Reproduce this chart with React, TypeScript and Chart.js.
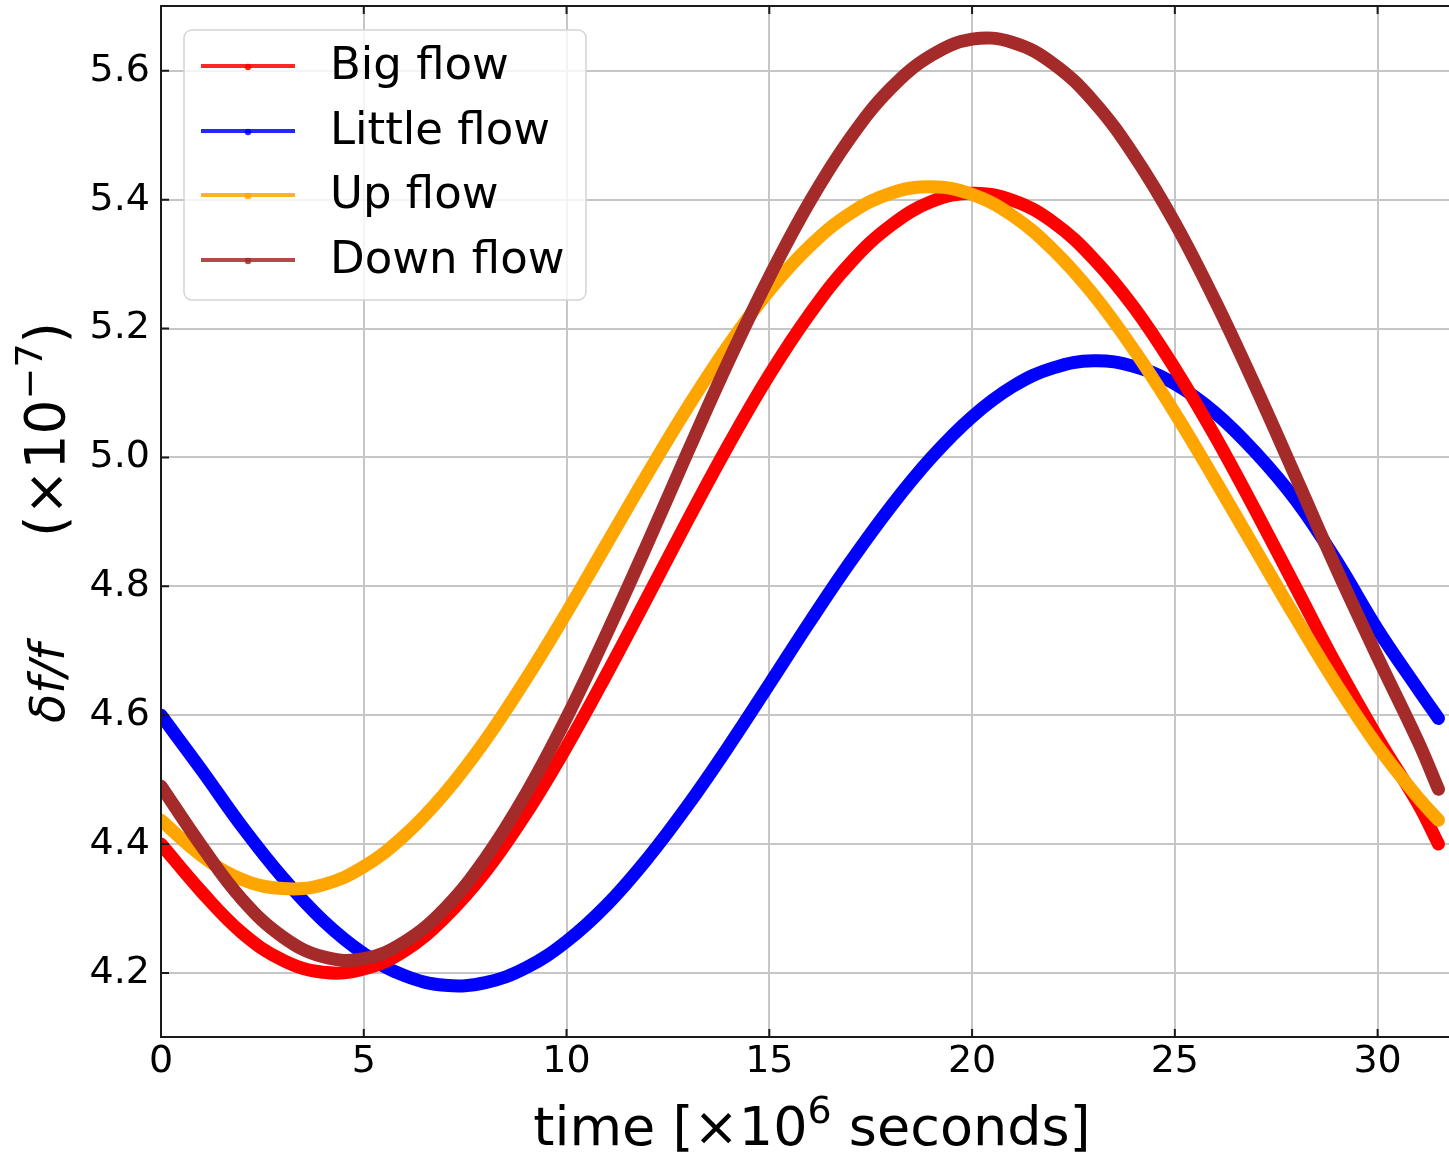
import React, { useEffect, useRef } from "react";
import { Chart, registerables } from "chart.js";

Chart.register(...registerables);

// ---- data (time in 10^6 s, δf/f in 10^-7) ----
const TIME = [0, 1, 2, 3, 4, 5, 6, 7, 8, 9, 10, 11, 12, 13, 14, 15, 16, 17, 18, 19, 20, 21, 22, 23, 24, 25, 26, 27, 28, 29, 30, 31, 31.5];

const BIG_FLOW = [4.40, 4.326, 4.262, 4.220, 4.201, 4.206, 4.234, 4.286, 4.357, 4.447, 4.551, 4.665, 4.784, 4.904, 5.020, 5.128, 5.223, 5.302, 5.360, 5.397, 5.410, 5.399, 5.365, 5.308, 5.232, 5.138, 5.032, 4.916, 4.796, 4.676, 4.565, 4.462, 4.40];

const LITTLE_FLOW = [4.60, 4.515, 4.427, 4.348, 4.281, 4.230, 4.196, 4.181, 4.185, 4.208, 4.249, 4.306, 4.378, 4.461, 4.552, 4.648, 4.745, 4.838, 4.924, 5.000, 5.063, 5.110, 5.139, 5.150, 5.141, 5.114, 5.069, 5.007, 4.932, 4.838, 4.733, 4.640, 4.595];

const UP_FLOW = [4.437, 4.382, 4.345, 4.331, 4.337, 4.365, 4.413, 4.479, 4.561, 4.656, 4.759, 4.867, 4.975, 5.079, 5.175, 5.259, 5.328, 5.379, 5.410, 5.420, 5.408, 5.375, 5.322, 5.252, 5.166, 5.069, 4.964, 4.856, 4.749, 4.646, 4.552, 4.472, 4.437];

const DOWN_FLOW = [4.49, 4.397, 4.314, 4.256, 4.225, 4.222, 4.248, 4.300, 4.378, 4.478, 4.596, 4.728, 4.867, 5.010, 5.150, 5.280, 5.397, 5.496, 5.573, 5.624, 5.649, 5.644, 5.611, 5.552, 5.468, 5.364, 5.242, 5.108, 4.967, 4.825, 4.690, 4.559, 4.485];

const SERIES_LABELS = ["Big flow", "Little flow", "Up flow", "Down flow"];
const SERIES_COLORS = ["#ff0000", "#0000ff", "#ffa500", "#a52a2a"];
const SERIES_ORDER = [3, 4, 2, 1]; // lower = drawn on top

const X_TICKS = [0, 5, 10, 15, 20, 25, 30];
const Y_TICKS = [4.2, 4.4, 4.6, 4.8, 5.0, 5.2, 5.4, 5.6];
const X_MIN = 0;
const X_MAX = 31.76;
const Y_MIN = 4.1006;
const Y_MAX = 5.7005;

const FONT = '"DejaVu Sans", "Liberation Sans", sans-serif';

type Seg = { t: string; italic?: boolean; sup?: boolean; size: number };

function segFont(s: Seg) {
  return `${s.italic ? "italic " : ""}${Math.round(s.size)}px ${FONT}`;
}

function segsWidth(ctx: CanvasRenderingContext2D, segs: Seg[]) {
  let w = 0;
  for (const s of segs) {
    ctx.font = segFont(s);
    w += ctx.measureText(s.t).width;
  }
  return w;
}

function drawSegs(ctx: CanvasRenderingContext2D, segs: Seg[], x0: number, y0: number, raise: number) {
  let x = x0;
  for (const s of segs) {
    ctx.font = segFont(s);
    ctx.fillText(s.t, x, s.sup ? y0 - raise : y0);
    x += ctx.measureText(s.t).width;
  }
}

const X_TITLE: Seg[] = [
  { t: "time [", size: 54 },
  { t: "×", size: 54 },
  { t: "10", size: 54 },
  { t: "6", sup: true, size: 38 },
  { t: " seconds]", size: 54 },
];
const Y_TITLE: Seg[] = [
  { t: "δf/f", italic: true, size: 48 },
  { t: "       ", size: 48 },
  { t: "(×10", size: 55 },
  { t: "−7", sup: true, size: 38 },
  { t: ")", size: 55 },
];

const framePlugin = {
  id: "frame",
  afterDatasetsDraw(chart: any) {
    const { ctx, chartArea: a, scales } = chart;
    ctx.save();
    ctx.strokeStyle = "#1a1a1a";
    ctx.lineWidth = 2;
    ctx.beginPath();
    ctx.moveTo(a.right + 10, a.top);
    ctx.lineTo(a.left, a.top);
    ctx.lineTo(a.left, a.bottom);
    ctx.lineTo(a.right + 10, a.bottom);
    ctx.stroke();
    const L = 8;
    ctx.beginPath();
    X_TICKS.forEach((v) => {
      const px = scales.x.getPixelForValue(v);
      ctx.moveTo(px, a.bottom);
      ctx.lineTo(px, a.bottom - L);
      ctx.moveTo(px, a.top);
      ctx.lineTo(px, a.top + L);
    });
    Y_TICKS.forEach((v) => {
      const py = scales.y.getPixelForValue(v);
      ctx.moveTo(a.left, py);
      ctx.lineTo(a.left + L, py);
    });
    ctx.stroke();
    ctx.restore();
  },
};

const titlePlugin = {
  id: "titles",
  afterDraw(chart: any) {
    const { ctx, chartArea: a } = chart;
    ctx.save();
    ctx.fillStyle = "#000";
    ctx.textBaseline = "alphabetic";
    ctx.textAlign = "left";
    // x title
    const wx = segsWidth(ctx, X_TITLE);
    const cx = (a.left + a.right) / 2 + 7;
    drawSegs(ctx, X_TITLE, cx - wx / 2, 1145, 22);
    // y title (rotated)
    const wy = segsWidth(ctx, Y_TITLE);
    const cy = (a.top + a.bottom) / 2 + 1;
    ctx.translate(64, cy + wy / 2);
    ctx.rotate(-Math.PI / 2);
    drawSegs(ctx, Y_TITLE, 0, 0, 22);
    ctx.restore();
  },
};

const legendPlugin = {
  id: "innerLegend",
  afterDraw(chart: any) {
    const { ctx, chartArea: a } = chart;
    const bx = a.left + 23;
    const by = a.top + 24;
    const bw = 402;
    const bh = 270;
    ctx.save();
    ctx.beginPath();
    (ctx as any).roundRect(bx, by, bw, bh, 8);
    ctx.fillStyle = "rgba(255,255,255,0.8)";
    ctx.fill();
    ctx.strokeStyle = "#d4d4d4";
    ctx.lineWidth = 1.5;
    ctx.stroke();
    const rowOffsets = [36, 101, 165, 230];
    SERIES_LABELS.forEach((label, i) => {
      const y = by + rowOffsets[i];
      ctx.strokeStyle = SERIES_COLORS[i];
      ctx.globalAlpha = 0.85;
      ctx.lineWidth = 4;
      ctx.beginPath();
      ctx.moveTo(bx + 17, y);
      ctx.lineTo(bx + 111, y);
      ctx.stroke();
      ctx.beginPath();
      ctx.fillStyle = SERIES_COLORS[i];
      ctx.arc(bx + 64, y + 1, 3.2, 0, Math.PI * 2);
      ctx.fill();
      ctx.globalAlpha = 1;
      ctx.fillStyle = "#000";
      ctx.font = `45px ${FONT}`;
      ctx.textBaseline = "middle";
      ctx.textAlign = "left";
      ctx.fillText(label, bx + 146, y + 1);
    });
    ctx.restore();
  },
};

export default function App() {
  const ref = useRef<HTMLCanvasElement | null>(null);

  useEffect(() => {
    document.body.style.margin = "0";
    const canvas = ref.current;
    if (!canvas) return;
    const seriesValues = [BIG_FLOW, LITTLE_FLOW, UP_FLOW, DOWN_FLOW];
    const chart = new Chart(canvas, {
      type: "line",
      data: {
        datasets: seriesValues.map((vals, i) => ({
          label: SERIES_LABELS[i],
          data: TIME.map((t, k) => ({ x: t, y: vals[k] })),
          borderColor: SERIES_COLORS[i],
          backgroundColor: SERIES_COLORS[i],
          borderWidth: 13,
          pointRadius: 0,
          tension: 0.4,
          borderCapStyle: "round" as const,
          borderJoinStyle: "round" as const,
          fill: false,
          order: SERIES_ORDER[i],
        })),
      },
      options: {
        responsive: false,
        maintainAspectRatio: false,
        animation: false,
        layout: { padding: { top: 6, right: 0, left: 0, bottom: 0 } },
        plugins: {
          legend: { display: false },
          tooltip: { enabled: false },
          title: { display: false },
        },
        scales: {
          x: {
            type: "linear",
            min: X_MIN,
            max: X_MAX,
            afterBuildTicks: (s: any) => {
              s.ticks = X_TICKS.map((v) => ({ value: v }));
            },
            afterFit: (s: any) => {
              s.height = 118;
              s.paddingLeft = 0;
              s.paddingRight = 0;
              s.paddingTop = 0;
              s.paddingBottom = 0;
            },
            ticks: {
              autoSkip: false,
              maxRotation: 0,
              padding: 2,
              color: "#000",
              font: { family: FONT, size: 38 },
              callback: (v: any) => String(v),
            },
            grid: { color: "#c6c6c6", lineWidth: 2, drawTicks: false },
            border: { display: false },
          },
          y: {
            type: "linear",
            min: Y_MIN,
            max: Y_MAX,
            afterBuildTicks: (s: any) => {
              s.ticks = Y_TICKS.map((v) => ({ value: v }));
            },
            afterFit: (s: any) => {
              s.width = 161;
              s.paddingLeft = 0;
              s.paddingRight = 0;
              s.paddingTop = 0;
              s.paddingBottom = 0;
            },
            ticks: {
              autoSkip: false,
              padding: 11,
              color: "#000",
              font: { family: FONT, size: 38 },
              callback: (v: any) => Number(v).toFixed(1),
            },
            grid: { color: "#c6c6c6", lineWidth: 2, drawTicks: false },
            border: { display: false },
          },
        },
      },
      plugins: [framePlugin, titlePlugin, legendPlugin],
    });
    return () => chart.destroy();
  }, []);

  return (
    <div style={{ width: 1449, height: 1155 }}>
      <canvas ref={ref} width={1449} height={1155} style={{ display: "block" }} />
    </div>
  );
}
